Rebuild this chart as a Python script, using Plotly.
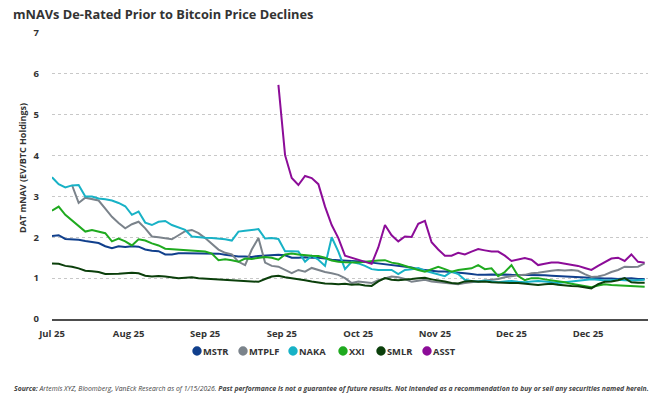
import pandas as pd
import plotly.graph_objects as go

# x grid: one observation every 2 days starting 2025-07-20
DATES = pd.date_range("2025-07-20", periods=90, freq="2D")

MSTR = [2.03, 2.05, 1.96, 1.95, 1.94, 1.91, 1.88, 1.86, 1.78, 1.73,
        1.78, 1.76, 1.78, 1.77, 1.70, 1.67, 1.66, 1.58, 1.58, 1.61,
        1.61, 1.61, 1.61, 1.60, 1.60, 1.60, 1.57, 1.55, 1.53, 1.53,
        1.52, 1.54, 1.55, 1.57, 1.57, 1.56, 1.50, 1.50, 1.51, 1.50,
        1.50, 1.48, 1.45, 1.44, 1.43, 1.42, 1.42, 1.40, 1.38, 1.36,
        1.35, 1.33, 1.30, 1.28, 1.26, 1.22, 1.20, 1.18, 1.16, 1.16,
        1.15, 1.13, 1.12, 1.10, 1.08, 1.08, 1.09, 1.08, 1.09, 1.08,
        1.08, 1.07, 1.08, 1.08, 1.07, 1.06, 1.05, 1.04, 1.03, 1.02,
        1.01, 1.00, 0.99, 0.99, 0.99, 0.98, 0.99, 1.00, 0.98, 0.98]

MTPLF = [None, None, None, 3.28, 2.84, 2.97, 2.94, 2.90, 2.70, 2.50,
         2.35, 2.22, 2.32, 2.38, 2.22, 2.02, 2.00, 1.98, 1.95, 2.05,
         2.15, 2.18, 2.10, 1.98, 1.85, 1.70, 1.62, 1.58, 1.40, 1.32,
         1.70, 1.98, 1.38, 1.30, 1.28, 1.20, 1.12, 1.20, 1.16, 1.25,
         1.20, 1.15, 1.12, 1.08, 1.00, 0.88, 0.92, 0.90, 0.88, 0.95,
         1.00, 1.04, 1.02, 0.98, 0.91, 0.94, 0.96, 0.92, 0.90, 0.88,
         0.86, 0.85, 0.88, 0.90, 0.92, 0.93, 0.95, 0.98, 1.02, 1.05,
         1.07, 1.08, 1.12, 1.13, 1.16, 1.18, 1.20, 1.19, 1.20, 1.18,
         1.10, 1.03, 1.04, 1.08, 1.15, 1.20, 1.28, 1.27, 1.28, 1.36]

NAKA = [3.47, 3.30, 3.22, 3.27, 3.28, 3.00, 3.00, 2.95, 2.93, 2.90,
        2.84, 2.76, 2.55, 2.63, 2.36, 2.30, 2.38, 2.40, 2.30, 2.24,
        2.18, 2.02, 2.00, 1.99, 1.98, 1.97, 1.95, 1.92, 2.14, 2.16,
        2.18, 2.20, 1.97, 1.98, 1.96, 1.66, 1.66, 1.65, 1.40, 1.55,
        1.45, 1.30, 2.00, 1.65, 1.22, 1.40, 1.36, 1.30, 1.22, 1.20,
        1.20, 1.20, 1.10, 1.20, 1.22, 1.25, 1.18, 1.14, 1.10, 1.05,
        1.16, 1.10, 0.96, 0.93, 0.92, 0.94, 0.92, 0.90, 0.92, 0.93,
        0.91, 0.90, 0.92, 0.93, 0.92, 0.90, 0.88, 0.90, 0.92, 0.93,
        0.95, 0.97, 0.96, 0.94, 0.95, 0.96, 0.95, 0.94, 0.95, 0.96]

XXI = [2.65, 2.75, 2.55, 2.42, 2.28, 2.14, 2.18, 2.14, 2.10, 1.90,
       1.97, 1.90, 1.80, 1.95, 1.92, 1.85, 1.80, 1.72, 1.71, 1.70,
       1.69, 1.68, 1.67, 1.65, 1.60, 1.44, 1.46, 1.44, 1.40, 1.48,
       1.47, 1.50, 1.52, 1.50, 1.45, 1.58, 1.60, 1.58, 1.56, 1.55,
       1.54, 1.50, 1.43, 1.40, 1.39, 1.38, 1.38, 1.40, 1.42, 1.43,
       1.44, 1.38, 1.35, 1.30, 1.24, 1.20, 1.16, 1.22, 1.28, 1.22,
       1.16, 1.20, 1.22, 1.24, 1.32, 1.22, 1.24, 1.05, 1.15, 1.32,
       1.05, 0.95, 1.00, 1.00, 0.97, 0.95, 0.93, 0.90, 0.86, 0.83,
       0.81, 0.78, 0.82, 0.85, 0.83, 0.82, 0.81, 0.80, 0.79, 0.79]

SMLR = [1.36, 1.35, 1.30, 1.28, 1.24, 1.18, 1.17, 1.15, 1.10, 1.10,
        1.11, 1.12, 1.13, 1.12, 1.06, 1.04, 1.05, 1.04, 1.02, 1.00,
        1.01, 1.02, 1.00, 0.99, 0.98, 0.97, 0.96, 0.95, 0.95, 0.94,
        0.93, 0.91, 0.98, 1.04, 1.06, 1.02, 1.00, 0.98, 0.95, 0.92,
        0.89, 0.87, 0.86, 0.85, 0.86, 0.84, 0.85, 0.82, 0.81, 0.92,
        1.00, 0.96, 0.95, 0.96, 0.98, 1.00, 1.01, 0.97, 0.95, 0.92,
        0.88, 0.87, 0.92, 0.93, 0.91, 0.92, 0.90, 0.89, 0.89, 0.88,
        0.88, 0.86, 0.84, 0.83, 0.85, 0.86, 0.84, 0.82, 0.81, 0.80,
        0.78, 0.75, 0.85, 0.91, 0.92, 0.95, 1.00, 0.90, 0.89, 0.89]

ASST = [None] * 34 + [
        5.73, 4.01, 3.45, 3.28, 3.50, 3.45, 3.30, 2.75, 2.30, 1.98,
        1.55, 1.50, 1.45, 1.40, 1.35, 1.75, 2.30, 2.05, 1.90, 2.02,
        2.01, 2.33, 2.40, 1.88, 1.70, 1.55, 1.55, 1.62, 1.58, 1.65,
        1.71, 1.68, 1.65, 1.65, 1.55, 1.42, 1.45, 1.49, 1.45, 1.32,
        1.35, 1.38, 1.38, 1.35, 1.33, 1.30, 1.25, 1.20, 1.30, 1.40,
        1.48, 1.50, 1.42, 1.58, 1.40, 1.38]

SERIES_NAMES = ["MSTR", "MTPLF", "NAKA", "XXI", "SMLR", "ASST"]
SERIES_VALUES = [MSTR, MTPLF, NAKA, XXI, SMLR, ASST]
COLORS = ["#103F8C", "#7B838B", "#18B2C6", "#1FAA1F", "#0B3F0B", "#8C0C98"]

TICK_DATES = ["2025-07-20", "2025-08-12", "2025-09-04", "2025-09-27",
              "2025-10-20", "2025-11-12", "2025-12-05", "2025-12-28"]
TICK_LABELS = ["Jul 25", "Aug 25", "Sep 25", "Sep 25",
               "Oct 25", "Nov 25", "Dec 25", "Dec 25"]
Y_TICKS = [0, 1, 2, 3, 4, 5, 6, 7]

TITLE = "mNAVs De-Rated Prior to Bitcoin Price Declines"
Y_TITLE = "DAT mNAV (EV/BTC Holdings)"
FOOTNOTE = ("<b><i>Source:</i></b><i> Artemis XYZ, Bloomberg, VanEck Research as of 1/15/2026. </i>"
            "<b><i>Past performance is not a guarantee of future results. Not intended as a "
            "recommendation to buy or sell any securities named herein.</i></b>")

FONT = "Open Sans"
TXT = "#333333"

# ---- layout geometry (pixels) ----
W, H = 658, 398
L, R, T, B = 52, 10, 33, 79
PW, PH = W - L - R, H - T - B
LEGEND_CX = [197, 243, 293, 343, 381, 427]   # legend circle centres
LEGEND_CY = 351


def px_x(px):
    return (px - L) / PW


def px_y(py):
    return (H - B - py) / PH


fig = go.Figure()
for name, vals, col in zip(SERIES_NAMES, SERIES_VALUES, COLORS):
    fig.add_trace(go.Scatter(x=DATES, y=vals, mode="lines", name=name,
                             line=dict(color=col, width=2), showlegend=False,
                             connectgaps=False, hoverinfo="skip"))

fig.update_layout(
    width=W, height=H,
    margin=dict(l=L, r=R, t=T, b=B),
    paper_bgcolor="white", plot_bgcolor="white",
    font=dict(family=FONT, color=TXT),
    title=dict(text="<b>" + TITLE + "</b>", x=13 / W, xanchor="left",
               y=1 - 15 / H, yanchor="middle", xref="container", yref="container",
               font=dict(size=12.8, family=FONT, color=TXT)),
    showlegend=False,
    xaxis=dict(type="date", range=["2025-07-20", "2026-01-15"],
               tickvals=TICK_DATES, ticktext=TICK_LABELS,
               showgrid=False, zeroline=False,
               showline=True, linecolor="#4d4d4d", linewidth=1.5,
               ticks="", ticklabelstandoff=5,
               tickfont=dict(size=9.5, family=FONT, color=TXT, weight="bold")),
    yaxis=dict(range=[0, 7], tickvals=Y_TICKS, showgrid=True,
               gridcolor="#c8c8c8", griddash="dot", gridwidth=1,
               zeroline=False, showline=False, ticks="", ticklabelstandoff=12,
               tickfont=dict(size=9.5, family=FONT, color=TXT, weight="bold")),
)

# legend: coloured circles + bold labels
for name, col, cx in zip(SERIES_NAMES, COLORS, LEGEND_CX):
    fig.add_shape(type="circle", xref="paper", yref="paper",
                  xsizemode="pixel", ysizemode="pixel",
                  xanchor=px_x(cx), yanchor=px_y(LEGEND_CY),
                  x0=-4.7, x1=4.7, y0=-4.7, y1=4.7,
                  fillcolor=col, line=dict(width=0))
    fig.add_annotation(text="<b>" + name + "</b>", xref="paper", yref="paper",
                       x=px_x(cx + 4), y=px_y(LEGEND_CY), xanchor="left", yanchor="middle",
                       showarrow=False, font=dict(size=9.3, family=FONT, color=TXT))

fig.add_annotation(text="<b>" + Y_TITLE + "</b>", textangle=-90,
                   xref="paper", yref="paper", x=px_x(23),
                   y=px_y(168), xanchor="center", yanchor="middle",
                   showarrow=False, font=dict(size=9, family=FONT, color=TXT))
fig.add_annotation(text=FOOTNOTE, xref="paper", yref="paper",
                   x=px_x(12), xanchor="left", y=px_y(388), yanchor="middle",
                   showarrow=False, font=dict(size=6.85, family=FONT, color="#444444"))

fig.write_html("out.html", config={"displayModeBar": False},
               post_script="document.body.style.margin='0px';")
